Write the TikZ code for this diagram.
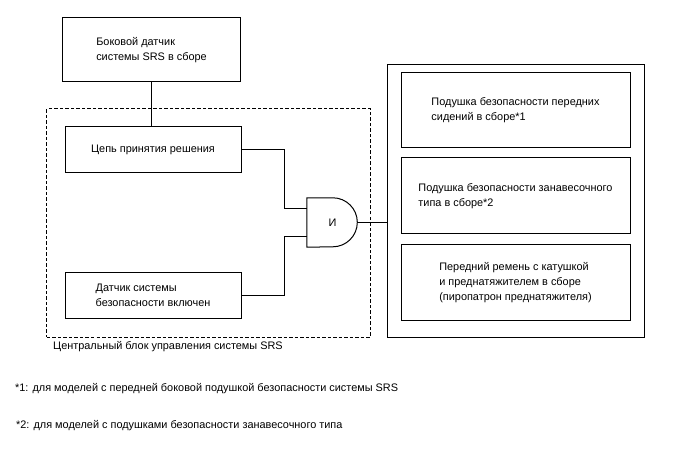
\documentclass[tikz,border=0pt]{standalone}
\usepackage{fontspec}
\setmainfont{Liberation Sans}
\usetikzlibrary{calc}
\tikzset{
  box/.style={draw, line width=1bp, align=left, inner sep=0pt, font=\fontsize{10.9bp}{15bp}\selectfont},
  wire/.style={line width=1bp},
  txt/.style={inner sep=0pt, anchor=base west, font=\fontsize{10.9bp}{15bp}\selectfont},
}
\begin{document}
\begin{tikzpicture}[x=1bp,y=-1bp]
\useasboundingbox (0,0) rectangle (688,463);
% top sensor
\node[box, minimum width=177bp, minimum height=64bp] (side) at (151.5,50) {Боковой датчик\\системы SRS в сборе};
% dashed ECU
\node[draw, line width=1bp, dash pattern=on 3.5bp off 2bp, minimum width=323bp, minimum height=228bp, inner sep=0pt] (ecu) at (208.5,223) {};
\node[txt] (ecul) at (53,349) {Центральный блок управления системы SRS};
\node[box, minimum width=176bp, minimum height=46bp] (dec) at (153,150) {Цепь принятия решения};
\node[box, minimum width=176bp, minimum height=45bp] (sens) at (153,295.5) {Датчик системы\\безопасности включен};
% AND gate
\node[inner sep=0pt, minimum width=51bp, minimum height=49bp, font=\fontsize{10.9bp}{12bp}\selectfont] (gate) at (332.5,222.5) {И};
\draw[wire] (gate.north west) -- ++(26,0) arc[start angle=90, end angle=-90, radius=24.5bp] -- (gate.south west) -- cycle;
\coordinate (gin1) at ($(gate.west)+(0,-13.5)$);
\coordinate (gin2) at ($(gate.west)+(0,14.5)$);
\coordinate (gout) at (gate.east);
% right group
\node[draw, line width=1bp, minimum width=257bp, minimum height=272bp, inner sep=0pt] (grp) at (515.5,201) {};
\node[box, minimum width=229bp, minimum height=75bp] (ab1) at (515.5,110.5) {Подушка безопасности передних\\сидений в сборе*1};
\node[box, minimum width=229bp, minimum height=76bp] (ab2) at (515.5,196) {Подушка безопасности занавесочного\\типа в сборе*2};
\node[box, minimum width=229bp, minimum height=75bp] (ab3) at (515.5,282.5) {Передний ремень с катушкой\\и преднатяжителем в сборе\\(пиропатрон преднатяжителя)};
% connectors
\draw[wire] (side.south) -- (side.south |- dec.north);
\draw[wire] (dec.east) -- (284,150) |- (gin1);
\draw[wire] (sens.east) -- (284,295.5) |- (gin2);
\draw[wire] (gout) -- (gout -| grp.west);
% footnotes
\node[txt] (fn1) at (15,391) {*1: для моделей с передней боковой подушкой безопасности системы SRS};
\node[txt] (fn2) at (16,428) {*2: для моделей с подушками безопасности занавесочного типа};
\end{tikzpicture}
\end{document}
